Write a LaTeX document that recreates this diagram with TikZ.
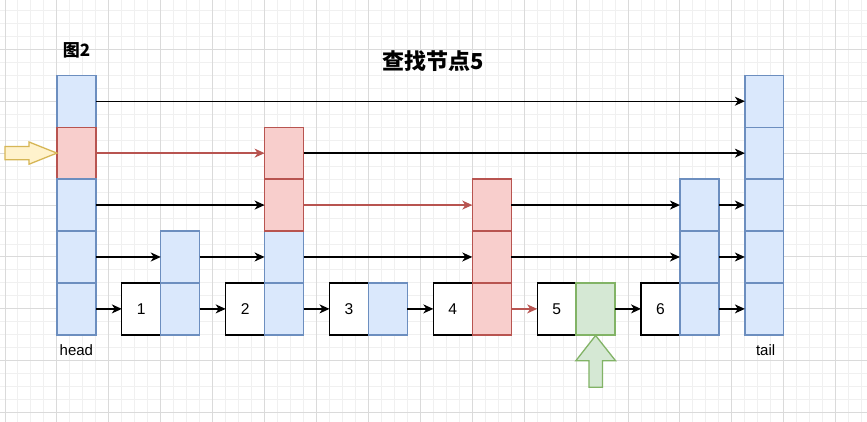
\documentclass[tikz,border=0pt]{standalone}
\usepackage{fontspec}
\setmainfont{Liberation Sans}
\newfontfamily\cjk{Noto Sans CJK SC}
\usetikzlibrary{arrows.meta}
\definecolor{bluefill}{HTML}{DAE8FC}
\definecolor{bluestroke}{HTML}{6C8EBF}
\definecolor{redfill}{HTML}{F8CECC}
\definecolor{redstroke}{HTML}{B85450}
\definecolor{greenfill}{HTML}{D5E8D4}
\definecolor{greenstroke}{HTML}{82B366}
\definecolor{yellowfill}{HTML}{FFF2CC}
\definecolor{yellowstroke}{HTML}{D6B656}
\definecolor{gridminor}{HTML}{F0F0F0}
\definecolor{gridmajor}{HTML}{DADADA}
\tikzset{
  cell/.style={draw, line width=1.3pt, minimum width=38.94pt, minimum height=51.92pt, inner sep=0pt, outer sep=0pt, font=\fontsize{15.6}{18}\selectfont},
  bluecell/.style={cell, fill=bluefill, draw=bluestroke},
  redcell/.style={cell, fill=redfill, draw=redstroke},
  greencell/.style={cell, fill=greenfill, draw=greenstroke},
  whitecell/.style={cell, fill=white, draw=black},
  link/.style={line width=1.3pt, -{Stealth[length=10pt, width=9pt, inset=3pt]}},
  redlink/.style={link, draw=redstroke, color=redstroke},
  minorline/.style={draw=gridminor, line width=1pt},
  majorline/.style={draw=gridmajor, line width=1pt},
  lbl/.style={font=\fontsize{15}{18}\selectfont, inner sep=0pt}
}
\newcommand{\cellat}[2]{({5+(#1+1.5)*12.98},{49.3+(#2+2)*12.98})}
\begin{document}
\begin{tikzpicture}[x=1pt, y=-1pt]
\useasboundingbox (0,0) rectangle (867,422);
\fill[white] (0,0) rectangle (867,422);
% grid
\foreach \k in {0,...,66} \draw[minorline] ({5+\k*12.98},0) -- ({5+\k*12.98},422);
\foreach \k in {-3,...,28} \draw[minorline] (0,{49.3+\k*12.98}) -- (867,{49.3+\k*12.98});
\foreach \k in {0,...,16} \draw[majorline] ({5+\k*51.92},0) -- ({5+\k*51.92},422);
\foreach \k in {0,...,7} \draw[majorline] (0,{49.3+\k*51.92}) -- (867,{49.3+\k*51.92});

% head column
\node[bluecell] (h5) at \cellat{4}{2} {};
\node[redcell]  (h4) at \cellat{4}{6} {};
\node[bluecell] (h3) at \cellat{4}{10} {};
\node[bluecell] (h2) at \cellat{4}{14} {};
\node[bluecell] (h1) at \cellat{4}{18} {};
% node 1
\node[whitecell] (w1) at \cellat{9}{18} {1};
\node[bluecell] (a1) at \cellat{12}{18} {};
\node[bluecell] (a2) at \cellat{12}{14} {};
% node 2
\node[whitecell] (w2) at \cellat{17}{18} {2};
\node[bluecell] (b1) at \cellat{20}{18} {};
\node[bluecell] (b2) at \cellat{20}{14} {};
\node[redcell]  (b3) at \cellat{20}{10} {};
\node[redcell]  (b4) at \cellat{20}{6} {};
% node 3
\node[whitecell] (w3) at \cellat{25}{18} {3};
\node[bluecell] (c1) at \cellat{28}{18} {};
% node 4
\node[whitecell] (w4) at \cellat{33}{18} {4};
\node[redcell] (d1) at \cellat{36}{18} {};
\node[redcell] (d2) at \cellat{36}{14} {};
\node[redcell] (d3) at \cellat{36}{10} {};
% node 5
\node[whitecell] (w5) at \cellat{41}{18} {5};
\node[greencell] (e1) at \cellat{44}{18} {};
% node 6
\node[whitecell] (w6) at \cellat{49}{18} {6};
\node[bluecell] (f1) at \cellat{52}{18} {};
\node[bluecell] (f2) at \cellat{52}{14} {};
\node[bluecell] (f3) at \cellat{52}{10} {};
% tail column
\node[bluecell] (t5) at \cellat{57}{2} {};
\node[bluecell] (t4) at \cellat{57}{6} {};
\node[bluecell] (t3) at \cellat{57}{10} {};
\node[bluecell] (t2) at \cellat{57}{14} {};
\node[bluecell] (t1) at \cellat{57}{18} {};

% links level 5
\draw[link] (h5.east) -- (t5.west);
% level 4
\draw[redlink] (h4.east) -- (b4.west);
\draw[link] (b4.east) -- (t4.west);
% level 3
\draw[link] (h3.east) -- (b3.west);
\draw[redlink] (b3.east) -- (d3.west);
\draw[link] (d3.east) -- (f3.west);
\draw[link] (f3.east) -- (t3.west);
% level 2
\draw[link] (h2.east) -- (a2.west);
\draw[link] (a2.east) -- (b2.west);
\draw[link] (b2.east) -- (d2.west);
\draw[link] (d2.east) -- (f2.west);
\draw[link] (f2.east) -- (t2.west);
% level 1
\draw[link] (h1.east) -- (w1.west);
\draw[link] (a1.east) -- (w2.west);
\draw[link] (b1.east) -- (w3.west);
\draw[link] (c1.east) -- (w4.west);
\draw[redlink] (d1.east) -- (w5.west);
\draw[link] (e1.east) -- (w6.west);
\draw[link] (f1.east) -- (t1.west);

% labels
\node[lbl] (headlbl) at (76.4,350) {head};
\node[lbl] (taillbl) at (765.6,350) {tail};
\node[inner sep=0pt, font=\cjk\bfseries\fontsize{22}{26}\selectfont] (title) at (433.4,61) {查找节点5};
\node[inner sep=0pt, font=\cjk\bfseries\fontsize{17}{20}\selectfont] (fig) at (76.5,50.3) {图2};

% yellow pointer arrow
\draw[line width=1.3pt, draw=yellowstroke, fill=yellowfill, line join=miter]
  (5,146.5) -- (29,146.5) -- (29,142) -- (56.9,153.1) -- (29,164.2) -- (29,159.7) -- (5,159.7) -- cycle;
% green pointer arrow
\draw[line width=1.3pt, draw=greenstroke, fill=greenfill, line join=miter]
  (595.6,335.5) -- (615.6,360.8) -- (602.4,360.8) -- (602.4,387.2) -- (589,387.2) -- (589,360.8) -- (575.8,360.8) -- cycle;
\end{tikzpicture}
\end{document}
